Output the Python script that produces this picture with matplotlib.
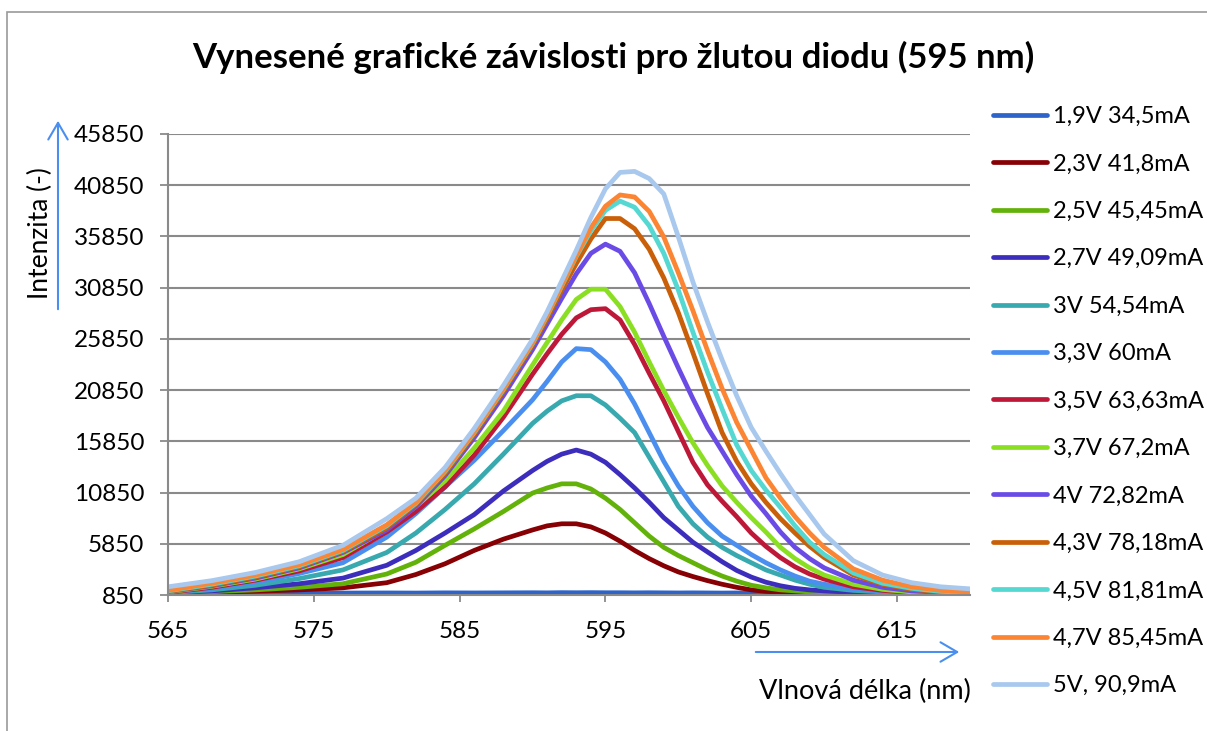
import matplotlib
matplotlib.use("Agg")
import matplotlib.pyplot as plt
from matplotlib.patches import FancyArrowPatch, Rectangle

plt.rcParams['font.family'] = ['Lato', 'DejaVu Sans']

# vlnova delka (nm)
vlnova_delka = [565, 568, 571, 574, 577, 580, 582, 584, 586, 588,
                590, 591, 592, 593, 594, 595, 596, 597, 598, 599, 600,
                601, 602, 603, 604, 605, 606, 607, 608, 609, 610,
                612, 614, 616, 618, 620]

# intenzita pro jednotlive napeti / proudy
i_19 = [1030, 1040, 1030, 1050, 1040, 1050, 1040, 1060, 1050, 1060, 1070, 1060, 1080, 1070, 1080, 1070, 1070, 1060,
        1070, 1060, 1050, 1060, 1050, 1040, 1050, 1040, 1050, 1040, 1030, 1040, 1030, 1040, 1030, 1020, 1030, 1020]
i_23 = [1040, 1120, 1220, 1350, 1550, 2050, 2850, 3900, 5200, 6300, 7200, 7600, 7800, 7800, 7500, 6900, 6100, 5200,
        4400, 3700, 3100, 2650, 2250, 1900, 1600, 1350, 1200, 1120, 1080, 1050, 1030, 1010, 1000, 1000, 1000, 1000]
i_25 = [1050, 1180, 1350, 1600, 1950, 2900, 4050, 5700, 7300, 9000, 10800, 11300, 11700, 11700, 11200, 10300, 9200, 7900,
        6600, 5500, 4700, 4000, 3300, 2700, 2200, 1800, 1550, 1350, 1250, 1150, 1100, 1050, 1020, 1000, 1000, 1000]
i_27 = [1060, 1250, 1550, 1950, 2500, 3750, 5200, 6900, 8700, 11000, 13000, 13900, 14600, 15000, 14600, 13800, 12600, 11300,
        9900, 8400, 7200, 6000, 5050, 4100, 3250, 2600, 2100, 1750, 1500, 1350, 1250, 1100, 1050, 1020, 1000, 1000]
i_30 = [1080, 1350, 1800, 2450, 3300, 5000, 6900, 9200, 11700, 14600, 17600, 18800, 19800, 20300, 20300, 19400, 18100, 16700,
        14300, 11900, 9500, 7800, 6500, 5500, 4700, 4000, 3300, 2800, 2300, 1900, 1600, 1300, 1150, 1080, 1030, 1000]
i_33 = [1100, 1500, 2100, 2950, 4000, 6500, 8800, 11400, 14000, 16900, 19900, 21700, 23600, 24900, 24800, 23600, 21900, 19500,
        16700, 13900, 11500, 9500, 7900, 6600, 5700, 4800, 4000, 3300, 2700, 2200, 1900, 1450, 1200, 1100, 1050, 1000]
i_35 = [1100, 1600, 2300, 3200, 4500, 7000, 9000, 11400, 14500, 18200, 22400, 24400, 26300, 27900, 28700, 28800, 27700, 25300,
        22500, 19800, 16800, 13800, 11600, 10000, 8500, 6900, 5600, 4500, 3600, 2900, 2400, 1650, 1300, 1100, 1050, 1000]
i_37 = [1150, 1700, 2400, 3400, 4800, 7300, 9500, 12000, 15200, 18800, 23300, 25500, 27700, 29700, 30700, 30700, 29000, 26500,
        23600, 20800, 18200, 15700, 13500, 11500, 9900, 8400, 7000, 5500, 4400, 3500, 2800, 1900, 1400, 1150, 1050, 1000]
i_40 = [1200, 1750, 2500, 3500, 5000, 7200, 9500, 12500, 16200, 20300, 24800, 27300, 29800, 32200, 34200, 35100, 34400, 32300,
        29300, 26100, 23000, 20000, 17200, 14900, 12600, 10500, 8800, 7000, 5500, 4400, 3500, 2300, 1600, 1250, 1100, 1000]
i_43 = [1200, 1800, 2600, 3600, 5100, 7400, 9700, 12700, 16500, 20700, 25200, 27800, 30600, 33200, 35600, 37600, 37600, 36600,
        34600, 31800, 28400, 24500, 20500, 16700, 13900, 11700, 9900, 8300, 6900, 5600, 4500, 2800, 1900, 1400, 1150, 1050]
i_45 = [1250, 1900, 2700, 3700, 5200, 7600, 9800, 12900, 16700, 20900, 25400, 28100, 31000, 33900, 36400, 38400, 39300, 38700,
        36900, 34200, 30600, 26500, 22600, 19000, 15500, 13000, 11100, 9400, 7600, 6000, 4800, 3000, 2000, 1500, 1200, 1100]
i_47 = [1300, 2000, 2800, 3800, 5300, 7700, 9900, 13000, 16800, 21000, 25500, 28200, 31100, 34000, 36700, 38800, 39900, 39700,
        38300, 35800, 32300, 28600, 24700, 21000, 17700, 15000, 12300, 10300, 8500, 6900, 5500, 3400, 2300, 1650, 1300, 1150]
i_50 = [1650, 2250, 3050, 4100, 5700, 8300, 10300, 13300, 17100, 21300, 25800, 28500, 31500, 34500, 37700, 40500, 42100, 42200,
        41500, 40000, 35800, 31400, 27500, 23800, 20300, 17200, 14900, 12700, 10600, 8700, 6800, 4200, 2800, 2050, 1650, 1450]

popisky = ['1,9V 34,5mA', '2,3V 41,8mA', '2,5V 45,45mA', '2,7V 49,09mA', '3V 54,54mA', '3,3V 60mA',
           '3,5V 63,63mA', '3,7V 67,2mA', '4V 72,82mA', '4,3V 78,18mA', '4,5V 81,81mA',
           '4,7V 85,45mA', '5V, 90,9mA']
serie = [i_19, i_23, i_25, i_27, i_30, i_33, i_35, i_37, i_40, i_43, i_45, i_47, i_50]
barvy = ['#2E63C9', '#860004', '#62B20A', '#3C2DBD', '#38A9AF', '#4A8FEF', '#BE1838',
         '#8BDF22', '#6A4BE6', '#C95F08', '#54D8D1', '#FB8532', '#A8C8EE']

sirka, vyska = 1207, 731
fig = plt.figure(figsize=(sirka / 100, vyska / 100), dpi=100)
ax = fig.add_axes([168 / sirka, 1 - 595 / vyska, 802 / sirka, 461 / vyska])

seda = '#8a8a8a'
for y, lab, c in zip(serie, popisky, barvy):
    ax.plot(vlnova_delka, y, color=c, lw=3.4, label=lab,
            solid_capstyle='round', solid_joinstyle='round')

ax.set_xlim(565, 620)
ax.set_ylim(850, 45850)
ax.set_xticks(range(565, 616, 10))
ax.set_yticks(range(850, 45851, 5000))
ax.grid(axis='y', color=seda, lw=1.5)
ax.set_axisbelow(True)
for s in ['top', 'right']:
    ax.spines[s].set_visible(False)
for s in ['left', 'bottom']:
    ax.spines[s].set_color(seda)
    ax.spines[s].set_linewidth(1.5)
ax.tick_params(axis='y', length=6, width=1.3, color=seda, pad=11, labelsize=17.5)
ax.tick_params(axis='x', length=5, width=1.3, color=seda, pad=14, labelsize=17.5)

# ramecek grafu
fig.add_artist(Rectangle((7 / sirka, -0.1), 1.2, 1.1 - 12 / vyska, transform=fig.transFigure,
                         fill=False, edgecolor='#9a9a9a', lw=1.2))

fig.text(613 / sirka, 1 - 57 / vyska, 'Vynesené grafické závislosti pro žlutou diodu (595 nm)',
         ha='center', va='center', fontsize=25, weight='bold')

fig.text(40 / sirka, 1 - 233 / vyska, 'Intenzita (-)', rotation=90, ha='center', va='center', fontsize=19)
fig.add_artist(FancyArrowPatch((58 / sirka, 1 - 312 / vyska), (58 / sirka, 1 - 118 / vyska),
                               transform=fig.transFigure, arrowstyle='->,head_length=0.6,head_width=0.35',
                               mutation_scale=20, color='#4A8FEF', lw=1.5))

fig.text(865 / sirka, 1 - 691 / vyska, 'Vlnová délka (nm)', ha='center', va='center', fontsize=19.5)
fig.add_artist(FancyArrowPatch((753 / sirka, 1 - 652 / vyska), (962 / sirka, 1 - 652 / vyska),
                               transform=fig.transFigure, arrowstyle='->,head_length=0.6,head_width=0.35',
                               mutation_scale=20, color='#4A8FEF', lw=1.5))

fig.legend(loc='upper left', bbox_to_anchor=(993 / sirka, 1 - 106 / vyska), frameon=False,
           fontsize=17, handlelength=2.3, handletextpad=0.25, labelspacing=1.12,
           borderpad=0, borderaxespad=0)

fig.savefig('out.png', dpi=100)
